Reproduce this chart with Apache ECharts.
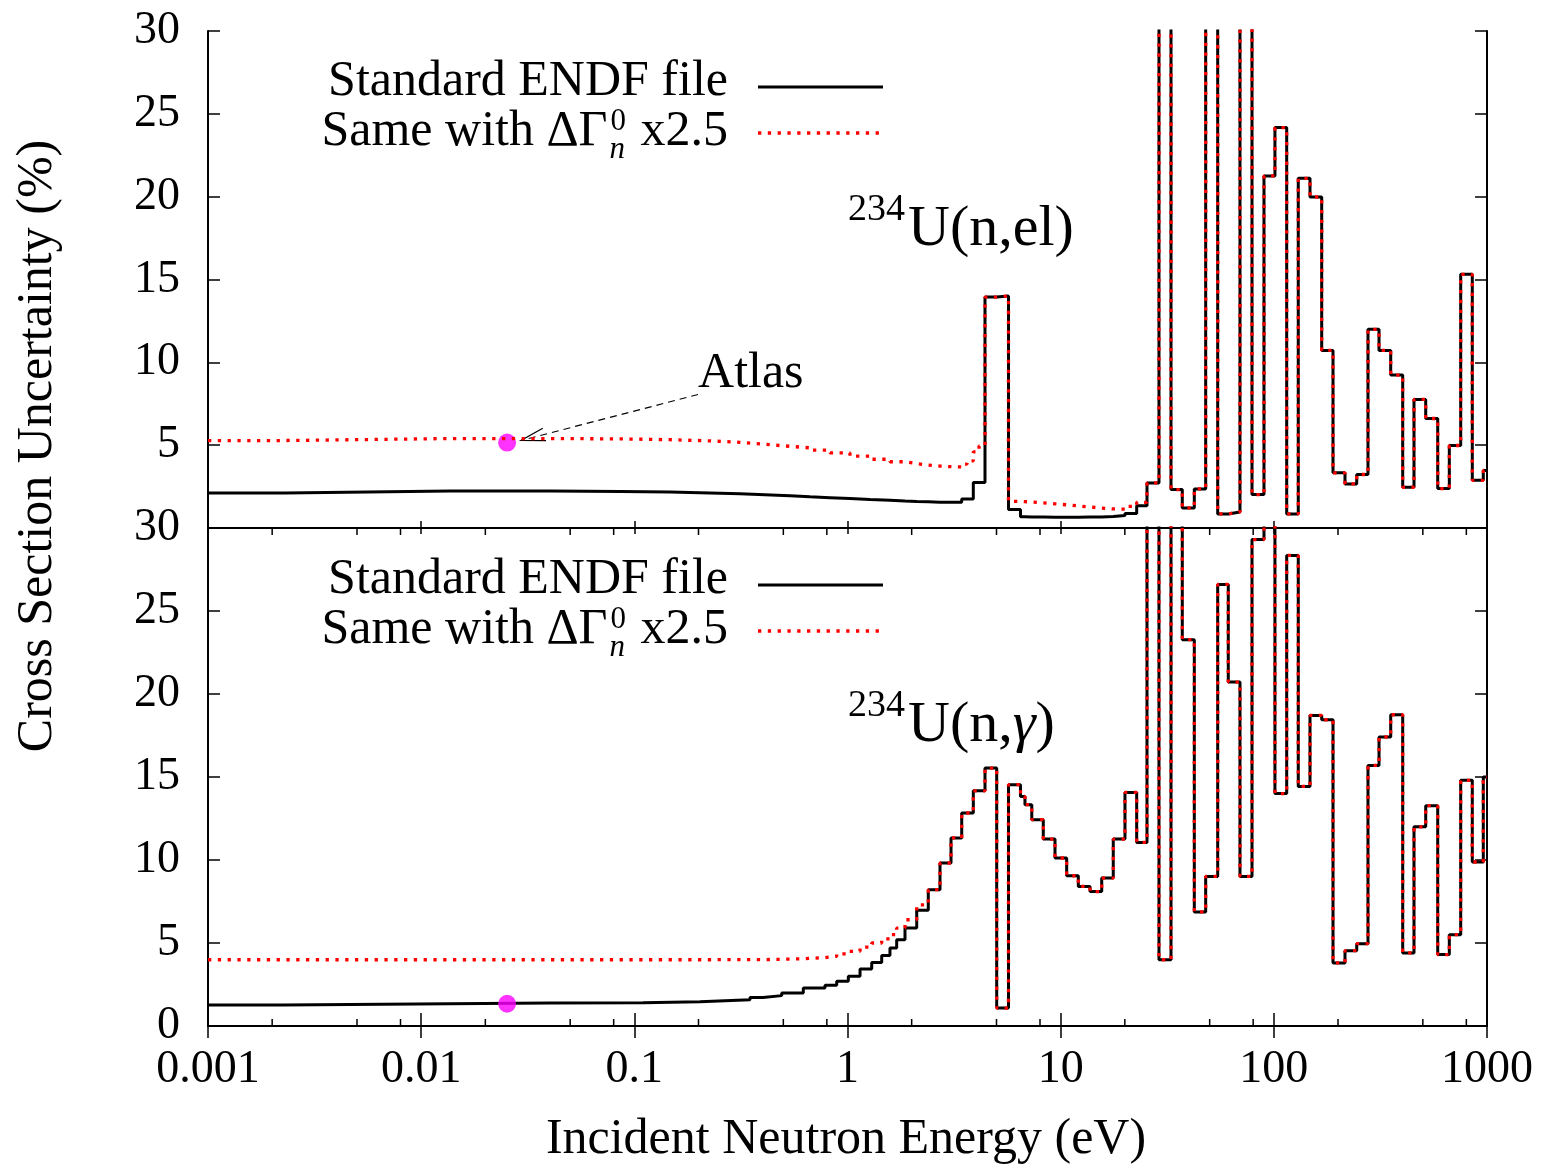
<!DOCTYPE html>
<html>
<head>
<meta charset="utf-8">
<title>234U cross section uncertainty</title>
<script src="https://cdn.jsdelivr.net/npm/echarts@6/dist/echarts.min.js"></script>
<style>
  html, body { margin: 0; padding: 0; background: #fff; }
  #chart { width: 1549px; height: 1167px; }
</style>
</head>
<body>
<div id="chart"></div>
<script>
// ---- Axis ticks -------------------------------------------------------
const xTickLabels = ['0.001', '0.01', '0.1', '1', '10', '100', '1000'];
const xMinorTicks = [0.002, 0.005, 0.008, 0.02, 0.05, 0.08, 0.2, 0.5, 0.8,
                     2, 5, 8, 20, 50, 80, 200, 500, 800];

// ---- 234U(n,el): group boundaries (eV) and uncertainties (%) ----------
const elEdges = [0.001, 0.0023, 0.01365, 0.0402, 0.0857, 0.1470, 0.2264, 0.3131, 0.4102, 0.5373,
  0.6668, 0.8274, 1.027, 1.275, 1.582, 1.861, 2.112, 2.393, 2.716, 3.059,
  3.434, 3.636, 3.892, 4.14, 4.416, 5.011, 5.691, 6.479, 6.80, 7.32,
  8.288, 9.406, 10.67, 12.10, 13.73, 15.58, 17.65, 20.03, 22.73, 25.41,
  28.92, 32.93, 37.20, 42.36, 47.89, 54.53, 61.13, 69.37, 78.99, 89.91,
  101.2, 114.9, 130.2, 147.8, 167.7, 189.5, 215.7, 244.8, 276.5, 311.5,
  353.4, 402.3, 454.5, 515.8, 587.2, 665.6, 752.7, 853.1, 960.7, 1000];
const elStandard = [2.12, 2.24, 2.23, 2.21, 2.18, 2.12, 2.06, 2.00, 1.94, 1.88,
  1.83, 1.78, 1.72, 1.67, 1.63, 1.60, 1.58, 1.56, 1.55, 1.56,
  1.75, 1.75, 2.75, 2.75, 13.94, 14.0, 1.11, 0.68, 0.67, 0.66,
  0.65, 0.65, 0.65, 0.66, 0.67, 0.69, 0.75, 0.88, 1.35, 2.72,
  40, 2.32, 1.21, 2.36, 40, 0.85, 0.97, 40, 2.02, 21.25,
  24.17, 0.85, 21.11, 19.98, 10.72, 3.33, 2.66, 3.23, 11.99, 10.72,
  9.23, 2.46, 7.76, 6.61, 2.38, 4.98, 15.31, 2.88, 3.47];
const elScaled = [5.28, 5.40, 5.40, 5.38, 5.33, 5.26, 5.17, 5.05, 4.93, 4.84,
  4.70, 4.53, 4.34, 4.15, 4.00, 3.88, 3.80, 3.74, 3.70, 3.69,
  3.85, 4.05, 4.60, 4.95, 13.94, 14.0, 1.61, 1.59, 1.57, 1.52,
  1.46, 1.40, 1.33, 1.27, 1.20, 1.15, 1.14, 1.30, 1.55, 2.72,
  40, 2.32, 1.21, 2.36, 40, 0.85, 0.97, 40, 2.02, 21.25,
  24.17, 0.85, 21.11, 19.98, 10.72, 3.33, 2.66, 3.23, 11.99, 10.72,
  9.23, 2.46, 7.76, 6.61, 2.38, 4.98, 15.31, 2.88, 3.47];

// ---- 234U(n,gamma) -----------------------------------------------------
const capEdges = [0.001, 0.00225, 0.0402, 0.1098, 0.2032, 0.3488, 0.4014, 0.4914, 0.6204, 0.7843,
  0.8899, 1.009, 1.145, 1.299, 1.447, 1.582, 1.701, 1.861, 2.112, 2.393,
  2.716, 3.059, 3.434, 3.892, 4.416, 5.011, 5.691, 6.479, 6.80, 7.32,
  8.288, 9.406, 10.67, 12.10, 13.73, 15.58, 17.65, 20.03, 22.73, 25.41,
  28.92, 32.93, 37.20, 42.36, 47.89, 54.53, 61.13, 69.37, 78.99, 89.91,
  101.2, 114.9, 130.2, 147.8, 167.7, 189.5, 215.7, 244.8, 276.5, 311.5,
  353.4, 402.3, 454.5, 515.8, 587.2, 665.6, 752.7, 853.1, 960.7, 1000];
const capStandard = [1.26, 1.38, 1.40, 1.46, 1.58, 1.72, 1.83, 1.99, 2.29, 2.45,
  2.70, 3.00, 3.43, 3.83, 4.25, 4.70, 5.20, 5.90, 6.97, 8.21,
  9.82, 11.33, 12.83, 14.17, 15.54, 1.08, 14.54, 13.83, 13.33, 12.43,
  11.26, 10.12, 9.05, 8.41, 8.10, 8.91, 11.26, 14.07, 11.06, 40,
  3.99, 40, 23.27, 6.87, 9.01, 26.6, 20.72, 9.01, 29.3, 40,
  14.0, 28.35, 14.43, 18.71, 18.45, 3.80, 4.54, 4.96, 15.7, 17.41,
  18.75, 4.40, 12.0, 13.27, 4.30, 5.50, 14.8, 9.88, 15.0];
const capScaled = [3.99, 3.99, 3.99, 3.99, 4.00, 4.00, 4.02, 4.05, 4.12, 4.20,
  4.35, 4.50, 4.75, 5.00, 5.25, 5.50, 5.90, 6.40, 7.30, 8.21,
  9.82, 11.33, 12.83, 14.17, 15.54, 1.08, 14.54, 13.83, 13.33, 12.43,
  11.26, 10.12, 9.05, 8.41, 8.10, 8.91, 11.26, 14.07, 11.06, 40,
  3.99, 40, 23.27, 6.87, 9.01, 26.6, 20.72, 9.01, 29.3, 40,
  14.0, 28.35, 14.43, 18.71, 18.45, 3.80, 4.54, 4.96, 15.7, 17.41,
  18.75, 4.40, 12.0, 13.27, 4.30, 5.50, 14.8, 9.88, 15.0];

// ---- Atlas thermal values (0.0253 eV) ----------------------------------
const atlasEnergy = 0.0253;
const atlasEl = 5.16;
const atlasCap = 1.34;

// ---- Styling ------------------------------------------------------------
const FONT = '"Liberation Serif", "Times New Roman", serif';
const TICK_FONT = 46;
const TEXT_FONT = 50;

// Group-wise constant values -> points for a step line
function stepData(edges, values) {
  const pts = values.map((v, i) => [edges[i], v]);
  pts.push([edges[edges.length - 1], values[values.length - 1]]);
  return pts;
}

const axisLineStyle = { show: true, lineStyle: { color: '#000', width: 2 } };

function xAxis(gridIndex, position, tickLen, showLabels) {
  return {
    type: 'log', logBase: 10, min: 0.001, max: 1000,
    gridIndex, position,
    axisLine: axisLineStyle,
    axisTick: { show: true, inside: true, length: tickLen, lineStyle: { color: '#000', width: 1.5 } },
    axisLabel: showLabels ? {
      show: true, margin: 21, color: '#000', fontFamily: FONT, fontSize: TICK_FONT,
      formatter: v => xTickLabels[Math.round(Math.log10(v)) + 3]
    } : { show: false },
    splitLine: { show: false }, minorTick: { show: false }
  };
}

function yAxis(gridIndex, position, showLabels, hideZero) {
  return {
    type: 'value', min: 0, max: 30, interval: 5,
    gridIndex, position,
    axisLine: axisLineStyle,
    axisTick: { show: true, inside: true, length: 12, lineStyle: { color: '#000', width: 1.5 } },
    axisLabel: showLabels ? {
      show: true, margin: 28, color: '#000', fontFamily: FONT, fontSize: TICK_FONT,
      formatter: v => (hideZero && v === 0) ? '' : String(v)
    } : { show: false },
    splitLine: { show: false }
  };
}

function standardLine(name, xi, yi, edges, values) {
  return {
    name, type: 'line', xAxisIndex: xi, yAxisIndex: yi, step: 'end',
    symbol: 'none', clip: true, z: 2, silent: true,
    lineStyle: { color: '#000', width: 3 },
    data: stepData(edges, values)
  };
}
function scaledLine(name, xi, yi, edges, values) {
  return {
    name, type: 'line', xAxisIndex: xi, yAxisIndex: yi, step: 'end',
    symbol: 'none', clip: true, z: 4, silent: true,
    lineStyle: { color: '#ff0000', width: 3.3, type: [3.3, 6.5], cap: 'butt' },
    data: stepData(edges, values)
  };
}
function atlasPoint(xi, yi, value) {
  return {
    name: 'Atlas', type: 'scatter', xAxisIndex: xi, yAxisIndex: yi,
    symbol: 'circle', symbolSize: 18, z: 3, silent: true,
    itemStyle: { color: '#ff00ff' },
    data: [[atlasEnergy, value]]
  };
}

const chart = echarts.init(document.getElementById('chart'), null, { renderer: 'canvas' });

chart.setOption({
  animation: false,
  backgroundColor: '#fff',
  grid: [
    { left: 208, top: 31, width: 1279, height: 497 },
    { left: 208, top: 528, width: 1279, height: 498 }
  ],
  xAxis: [
    xAxis(0, 'bottom', 7, false),
    xAxis(0, 'top', 6, false),
    xAxis(1, 'bottom', 13, true),
    xAxis(1, 'top', 12, false)
  ],
  yAxis: [
    yAxis(0, 'left', true, true),
    yAxis(0, 'right', false, false),
    yAxis(1, 'left', true, false),
    yAxis(1, 'right', false, false)
  ],
  series: [
    standardLine('Standard ENDF file', 0, 0, elEdges, elStandard),
    scaledLine('Same with dGn x2.5', 0, 0, elEdges, elScaled),
    atlasPoint(0, 0, atlasEl),
    standardLine('Standard ENDF file', 2, 2, capEdges, capStandard),
    scaledLine('Same with dGn x2.5', 2, 2, capEdges, capScaled),
    atlasPoint(2, 2, atlasCap),
    {
      // minor ticks at 2, 5 and 8 of every decade, lower panel (bottom and top edges)
      type: 'custom', xAxisIndex: 2, yAxisIndex: 2, silent: true, clip: false, z: 5,
      data: xMinorTicks.map(e => [e, 0]),
      encode: { x: 0, y: 1 },
      renderItem: (params, api) => {
        const e = api.value(0);
        const b = api.coord([e, 0]);
        const t = api.coord([e, 30]);
        return {
          type: 'group',
          children: [
            { type: 'line', shape: { x1: b[0], y1: b[1], x2: b[0], y2: b[1] - 7 }, style: { stroke: '#000', lineWidth: 1.5 } },
            { type: 'line', shape: { x1: t[0], y1: t[1], x2: t[0], y2: t[1] + 7 }, style: { stroke: '#000', lineWidth: 1.5 } }
          ]
        };
      }
    }
  ]
});

// ---- Text, legends and the Atlas annotation -----------------------------
const meas = document.createElement('canvas').getContext('2d');
function textWidth(str, size, italic) {
  meas.font = (italic ? 'italic ' : '') + size + 'px ' + FONT;
  return meas.measureText(str).width;
}
function txt(str, x, y, size, opts) {
  opts = opts || {};
  return {
    type: 'text', x, y, silent: true, rotation: opts.rotation || 0,
    style: {
      text: str, fill: '#000', fontFamily: FONT, fontSize: size,
      fontStyle: opts.italic ? 'italic' : 'normal',
      align: opts.align || 'left', verticalAlign: 'middle',
      rich: opts.rich
    }
  };
}
function seg(x1, y1, x2, y2, style) {
  return { type: 'line', silent: true, shape: { x1, y1, x2, y2 }, style };
}

function legend(dy) {
  const right = 728;
  const l1 = 82 + dy, l2 = 132 + dy;
  const subSize = 31;
  const tail = ' x2.5';
  const wTail = textWidth(tail, TEXT_FONT);
  const wScript = Math.max(textWidth('0', subSize), textWidth('n', subSize, true)) + 4;
  const scriptX = right - wTail - wScript;
  return [
    txt('Standard ENDF file', right, l1, TEXT_FONT, { align: 'right' }),
    seg(758, 87 + dy, 883, 87 + dy, { stroke: '#000', lineWidth: 3 }),
    txt('Same with \u0394\u0393', scriptX - 1, l2, TEXT_FONT, { align: 'right' }),
    txt('0', scriptX + 2, l2 - 10, subSize),
    txt('n', scriptX + 1, l2 + 18, subSize, { italic: true }),
    txt(tail, right, l2, TEXT_FONT, { align: 'right' }),
    seg(758, 133 + dy, 881, 133 + dy, { stroke: '#ff0000', lineWidth: 3.3, lineDash: [3.3, 6.5] })
  ];
}

function reaction(y, body, rich) {
  const x0 = 848;
  const supSize = 38;
  const w = textWidth('234', supSize);
  return [
    txt('234', x0, y - 20, supSize),
    txt(body, x0 + w + 3, y, 58, { rich })
  ];
}

// Atlas arrow, anchored in data units of the upper panel
const arrowTip = chart.convertToPixel({ seriesIndex: 0 }, [0.0294, 5.28]);
const arrowTail = chart.convertToPixel({ seriesIndex: 0 }, [0.199, 8.06]);
const ang = Math.atan2(arrowTail[1] - arrowTip[1], arrowTail[0] - arrowTip[0]);
const headLen = 25, headAng = 15 * Math.PI / 180;
const barb = s => [arrowTip[0] + headLen * Math.cos(ang + s * headAng),
                   arrowTip[1] + headLen * Math.sin(ang + s * headAng)];
const b1 = barb(1), b2 = barb(-1);

const graphics = []
  .concat(legend(0), legend(498))
  .concat(reaction(230, 'U(n,el)'))
  .concat(reaction(726, '{a|U(n,}{g|\u03b3}{a|)}', {
    a: { fontFamily: FONT, fontSize: 58, fill: '#000' },
    g: { fontFamily: FONT, fontSize: 58, fill: '#000', fontStyle: 'italic' }
  }))
  .concat([
    txt('Atlas', arrowTail[0], arrowTail[1] - 21, TEXT_FONT),
    seg(arrowTail[0], arrowTail[1], arrowTip[0], arrowTip[1], { stroke: '#000', lineWidth: 1.2, lineDash: [7, 5] }),
    { type: 'polyline', silent: true, shape: { points: [b1, arrowTip, b2] }, style: { stroke: '#000', lineWidth: 1.2, fill: null } },
    txt('Cross Section Uncertainty (%)', 38, 446, TEXT_FONT, { align: 'center', rotation: Math.PI / 2 }),
    txt('Incident Neutron Energy (eV)', 846, 1140, TEXT_FONT, { align: 'center' })
  ]);

chart.setOption({ graphic: graphics });
</script>
</body>
</html>
